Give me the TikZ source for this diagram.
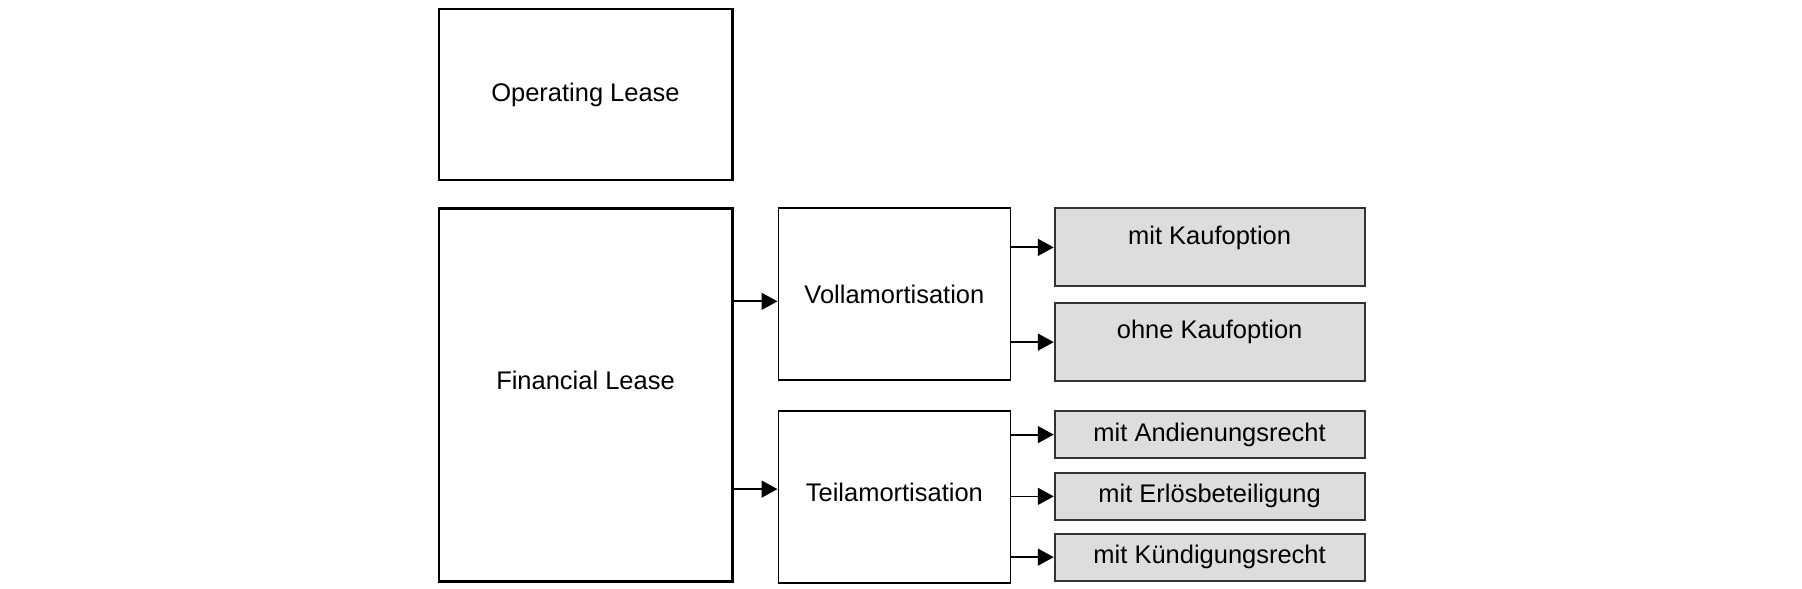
\documentclass[tikz,border=0pt]{standalone}
\usepackage{fontspec}
\setmainfont{Liberation Sans}
\usepackage{tikz}
\usetikzlibrary{arrows.meta,positioning,calc}
\tikzset{
  >=Triangle,
  every node/.append style={font=\fontsize{14.5}{17}\selectfont},
}
\tikzset{
  lease/.style={draw, line width=1.7pt, minimum width=5.86cm, align=center, inner sep=0pt},
  amort/.style={draw, line width=1pt, minimum width=4.64cm, align=center, inner sep=0pt},
  variant/.style={draw=black!80, line width=1pt, fill=gray!27, minimum width=6.2cm, align=center, inner sep=0pt},
  toptext/.style={text depth=5mm},
  arr/.style={-{Triangle[length=3.2mm, width=3.4mm]}, line width=1pt}
}
\begin{document}
\begin{tikzpicture}[node distance=5.2mm and 9mm]
\useasboundingbox (0,0) rectangle (36.04,-11.78);

% Leasing types
\node[lease, minimum height=3.42cm] (oper) at (11.71,-1.89) {Operating Lease};
\node[lease, minimum height=7.45cm, text depth=6mm, below=of oper] (fin) {Financial Lease};

% Amortisation
\node[amort, minimum height=3.44cm, anchor=north west] (voll) at ($(fin.north east)+(0.88,0)$) {Vollamortisation};
\node[amort, minimum height=3.44cm, text depth=2mm, below=5.8mm of voll] (teil) {Teilamortisation};

% Contract variants
\node[variant, toptext, minimum height=1.56cm, anchor=north west] (kauf) at ($(voll.north east)+(0.85,0)$) {mit Kaufoption};
\node[variant, toptext, minimum height=1.56cm, below=3mm of kauf] (ohne) {ohne Kaufoption};
\node[variant, minimum height=0.94cm, anchor=north west] (andien) at ($(teil.north east)+(0.85,0)$) {mit Andienungsrecht};
\node[variant, minimum height=0.94cm, below=2.6mm of andien] (erloes) {mit Erlösbeteiligung};
\node[variant, minimum height=0.94cm, below=2.4mm of erloes] (kuend) {mit Kündigungsrecht};

% Connectors
\coordinate (f1) at ($(fin.north east)!0.25!(fin.south east)$);
\coordinate (f2) at ($(fin.north east)!0.75!(fin.south east)$);
\draw[arr] (f1) -- (f1 -| voll.west);
\draw[arr] (f2) -- (f2 -| teil.west);
\draw[arr] (voll.east |- kauf.west) -- (kauf.west);
\draw[arr] (voll.east |- ohne.west) -- (ohne.west);
\draw[arr] (teil.east |- andien.west) -- (andien.west);
\draw[arr] (teil.east |- erloes.west) -- (erloes.west);
\draw[arr] (teil.east |- kuend.west) -- (kuend.west);

\end{tikzpicture}
\end{document}
